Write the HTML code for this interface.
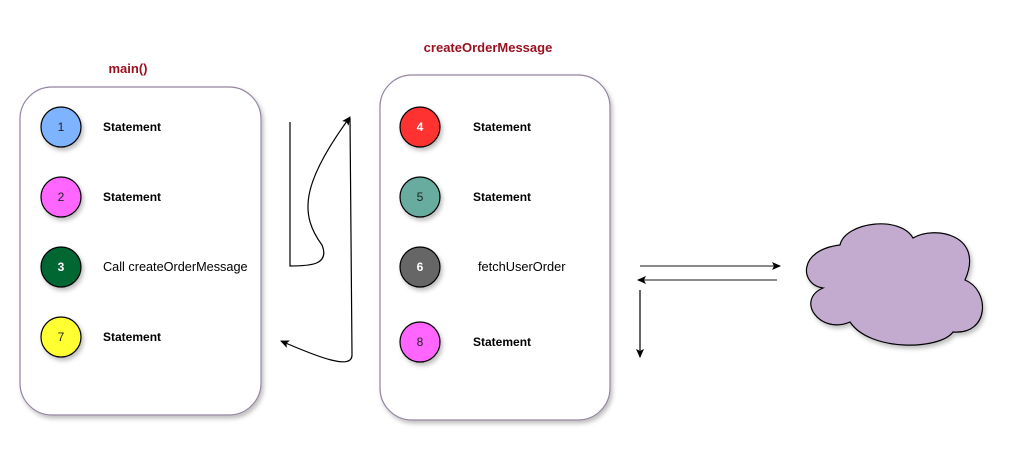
<!DOCTYPE html>
<html><head><meta charset="utf-8"><style>
html,body{margin:0;padding:0;background:#fff;}
svg{display:block;}
text{font-family:"Liberation Sans",Arial,sans-serif;}
</style></head><body>
<svg width="1011" height="449" viewBox="0 0 1011 449" xmlns="http://www.w3.org/2000/svg">
<defs>
<filter id="sh" x="-10%" y="-10%" width="130%" height="130%"><feDropShadow dx="2" dy="3" stdDeviation="2" flood-color="#000" flood-opacity="0.25"/></filter>
<marker id="ar" markerWidth="10" markerHeight="10" refX="8" refY="5" orient="auto" markerUnits="userSpaceOnUse"><path d="M0,1 L9,5 L0,9 L2,5 Z" fill="#000"/></marker>
</defs>
<text x="128" y="73" text-anchor="middle" font-size="13" font-weight="bold" fill="#9a0f1e">main()</text>
<text x="488" y="52" text-anchor="middle" font-size="13" font-weight="bold" fill="#9a0f1e">createOrderMessage</text>
<rect x="20" y="87" width="241" height="328" rx="32" fill="#fff" stroke="#9484a0" stroke-width="1.2" filter="url(#sh)"/>
<rect x="380" y="75" width="230" height="345" rx="32" fill="#fff" stroke="#9484a0" stroke-width="1.2" filter="url(#sh)"/>
<g stroke="#000" stroke-width="1.2" filter="url(#sh)">
<circle cx="61" cy="127" r="20" fill="#7eb3ff"/>
<circle cx="61" cy="197" r="20" fill="#ff66ff"/>
<circle cx="61" cy="267" r="20" fill="#006633"/>
<circle cx="61" cy="337" r="20" fill="#ffff33"/>
<circle cx="420" cy="127" r="20" fill="#ff3333"/>
<circle cx="420" cy="197" r="20" fill="#67ab9f"/>
<circle cx="420" cy="267" r="20" fill="#666666"/>
<circle cx="420" cy="342" r="20" fill="#ff66ff"/>
</g>
<g font-size="12" text-anchor="middle">
<text x="61" y="131" fill="#222">1</text>
<text x="61" y="201" fill="#222">2</text>
<text x="61" y="271" fill="#fff" font-weight="bold">3</text>
<text x="61" y="341" fill="#222">7</text>
<text x="420" y="131" fill="#fff" font-weight="bold">4</text>
<text x="420" y="201" fill="#222">5</text>
<text x="420" y="271" fill="#fff" font-weight="bold">6</text>
<text x="420" y="346" fill="#222">8</text>
</g>
<g font-size="12" font-weight="bold" fill="#000">
<text x="103" y="131">Statement</text>
<text x="103" y="201">Statement</text>
<text x="103" y="271" font-weight="normal" font-size="12.7">Call createOrderMessage</text>
<text x="103" y="341">Statement</text>
<text x="473" y="131">Statement</text>
<text x="473" y="201">Statement</text>
<text x="478" y="271" font-weight="normal" font-size="12.8">fetchUserOrder</text>
<text x="473" y="346">Statement</text>
</g>
<g fill="none" stroke="#000" stroke-width="1.2">
<path d="M290,122 L290,266 C310,266 330,265 322,245 C300,215 300,185 350,117" marker-end="url(#ar)"/>
<path d="M350,118 L352,355 C352,370 320,358 281,341" marker-end="url(#ar)"/>
<path d="M640,266 L780,266" stroke="#444" marker-end="url(#ar)"/>
<path d="M777,280 L638,280" stroke="#444" marker-end="url(#ar)"/>
<path d="M640,290 L640,357" marker-end="url(#ar)"/>
</g>
<path filter="url(#sh)" fill="#c3abd0" stroke="#000" stroke-width="1.2" d="M823,288 C800,285 797,250 840,245 C845,222 900,215 913,238 C935,225 985,235 965,280 C990,290 990,335 953,332 C940,350 870,352 850,322 C820,335 795,300 823,288 Z"/>
</svg>
</body></html>
